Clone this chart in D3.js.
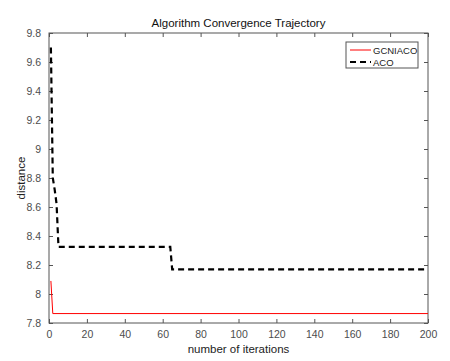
<!DOCTYPE html>
<html>
<head>
<meta charset="utf-8">
<script src="https://cdn.jsdelivr.net/npm/d3@7"></script>
<style>
body { margin: 0; background: #fff; }
svg { font-family: "Liberation Sans", Arial, sans-serif; }
</style>
</head>
<body>
<svg width="450" height="361"></svg>
<script>
// values (iteration, distance)
var gcniacoIter = [1, 2, 200];
var gcniacoDist = [8.09, 7.865, 7.865];
var acoIter = [1, 2, 3, 4, 5, 64, 65, 200];
var acoDist = [9.7, 8.8, 8.72, 8.62, 8.325, 8.325, 8.17, 8.17];
var xTicks = [0, 20, 40, 60, 80, 100, 120, 140, 160, 180, 200];
var yTicks = [7.8, 8, 8.2, 8.4, 8.6, 8.8, 9, 9.2, 9.4, 9.6, 9.8];

var svg = d3.select("svg"),
    plotLeft = 49, plotRight = 428, plotTop = 33, plotBottom = 323;

var xScale = d3.scaleLinear().domain([0, 200]).range([plotLeft, plotRight]),
    yScale = d3.scaleLinear().domain([7.8, 9.8]).range([plotBottom, plotTop]);

var axisColor = "#555", textColor = "#4d4d4d";

function pairs(xs, ys) {
  return xs.map(function (x, i) { return [x, ys[i]]; });
}

var line = d3.line()
  .x(function (d) { return xScale(d[0]); })
  .y(function (d) { return yScale(d[1]); });

// axes, ticks inward like matlab
function styleAxis(g) {
  g.select(".domain").remove();
  g.selectAll(".tick line").attr("stroke", axisColor);
  g.selectAll(".tick text").attr("fill", textColor).attr("font-size", "10.5px");
}

svg.append("g")
  .attr("transform", "translate(0," + plotBottom + ")")
  .call(d3.axisBottom(xScale).tickValues(xTicks).tickSizeInner(-4).tickPadding(8).tickFormat(d3.format("d")))
  .call(styleAxis);

svg.append("g")
  .attr("transform", "translate(0," + plotTop + ")")
  .call(d3.axisTop(xScale).tickValues(xTicks).tickSizeInner(-4).tickFormat(""))
  .call(styleAxis);

svg.append("g")
  .attr("transform", "translate(" + plotLeft + ",0)")
  .call(d3.axisLeft(yScale).tickValues(yTicks).tickSizeInner(-4).tickPadding(8).tickFormat(d3.format("~g")))
  .call(styleAxis);

svg.append("g")
  .attr("transform", "translate(" + plotRight + ",0)")
  .call(d3.axisRight(yScale).tickValues(yTicks).tickSizeInner(-4).tickFormat(""))
  .call(styleAxis);

svg.append("rect")
  .attr("x", plotLeft).attr("y", plotTop)
  .attr("width", plotRight - plotLeft).attr("height", plotBottom - plotTop)
  .attr("fill", "none").attr("stroke", axisColor).attr("stroke-width", 1);

svg.append("path")
  .datum(pairs(gcniacoIter, gcniacoDist))
  .attr("d", line)
  .attr("fill", "none")
  .attr("stroke", "#ff0000")
  .attr("stroke-width", 1);

svg.append("path")
  .datum(pairs(acoIter, acoDist))
  .attr("d", line)
  .attr("fill", "none")
  .attr("stroke", "#000")
  .attr("stroke-width", 2.2)
  .attr("stroke-dasharray", "6,4");

// title and labels
svg.append("text")
  .attr("x", (plotLeft + plotRight) / 2).attr("y", 27)
  .attr("text-anchor", "middle")
  .attr("font-size", "11.5px").attr("fill", "#111")
  .text("Algorithm Convergence Trajectory");

svg.append("text")
  .attr("x", (plotLeft + plotRight) / 2).attr("y", 353)
  .attr("text-anchor", "middle")
  .attr("font-size", "11.5px").attr("fill", "#222")
  .text("number of iterations");

svg.append("text")
  .attr("transform", "translate(25," + (plotTop + plotBottom) / 2 + ") rotate(-90)")
  .attr("text-anchor", "middle")
  .attr("font-size", "11.5px").attr("fill", "#222")
  .text("distance");

// legend
var legend = svg.append("g").attr("transform", "translate(346,42)");
legend.append("rect")
  .attr("width", 72).attr("height", 26)
  .attr("fill", "#fff").attr("stroke", axisColor).attr("stroke-width", 1);

var legendItems = [
  { name: "GCNIACO", color: "#ff0000", width: 1, dash: null },
  { name: "ACO", color: "#000", width: 2.2, dash: "6,4" }
];

legendItems.forEach(function (d, i) {
  var y = 8 + i * 12;
  legend.append("line")
    .attr("x1", 4).attr("x2", 25).attr("y1", y).attr("y2", y)
    .attr("stroke", d.color).attr("stroke-width", d.width)
    .attr("stroke-dasharray", d.dash);
  legend.append("text")
    .attr("x", 27).attr("y", y + 3.5)
    .attr("font-size", "9.5px").attr("fill", "#222")
    .text(d.name);
});
</script>
</body>
</html>
